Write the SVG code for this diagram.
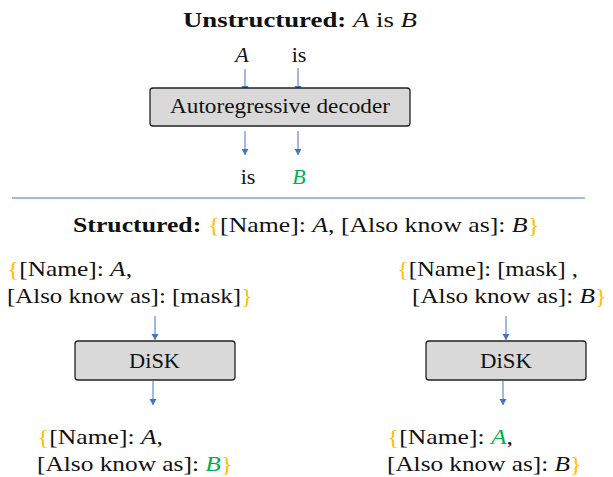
<svg xmlns="http://www.w3.org/2000/svg" width="613" height="477" viewBox="0 0 613 477">
  <style>
    .t { font-family: 'Liberation Serif', 'DejaVu Serif', serif; font-size: 22px; fill: #111; }
    .b { font-weight: bold; }
    .i { font-style: italic; }
    .br { fill: #ffc000; }
    .g { fill: #00b050; }
    .box { fill: #d9d9d9; stroke: #222; stroke-width: 1.3; }
    .arr { stroke: #4472c4; stroke-width: 1; fill: none; marker-end: url(#ah); }
  </style>
  <defs>
    <marker id="ah" markerWidth="8" markerHeight="8" refX="6" refY="4" orient="auto" markerUnits="userSpaceOnUse">
      <path d="M0,0.5 L6,4 L0,7.5 Z" fill="#4472c4"/>
    </marker>
  </defs>

  <!-- connectors -->
  <g id="connectors">
    <line class="arr" x1="245" y1="69" x2="245" y2="92"/>
    <line class="arr" x1="298" y1="68" x2="298" y2="92"/>
    <line class="arr" x1="245" y1="131" x2="245" y2="155"/>
    <line class="arr" x1="298" y1="131" x2="298" y2="155"/>
    <line x1="12" y1="198" x2="585" y2="198" stroke="#4472c4" stroke-width="1"/>
    <line class="arr" x1="155" y1="316" x2="155" y2="340"/>
    <line class="arr" x1="153" y1="381" x2="153" y2="405"/>
    <line class="arr" x1="506" y1="316" x2="506" y2="340"/>
    <line class="arr" x1="503" y1="381" x2="503" y2="405"/>
  </g>

  <!-- unstructured part -->
  <g id="title-unstructured">
    <text class="t" x="183" y="27" textLength="234" lengthAdjust="spacingAndGlyphs"><tspan class="b">Unstructured:</tspan> <tspan class="i">A</tspan> is <tspan class="i">B</tspan></text>
  </g>
  <g id="input-tokens">
    <text class="t i" x="242" y="62" text-anchor="middle">A</text>
    <text class="t" x="299" y="62" text-anchor="middle">is</text>
  </g>
  <g id="decoder">
    <rect class="box" x="150" y="88" width="260" height="38" rx="3"/>
    <text class="t" x="170" y="113" textLength="220" lengthAdjust="spacingAndGlyphs">Autoregressive decoder</text>
  </g>
  <g id="output-tokens">
    <text class="t" x="248" y="184" text-anchor="middle">is</text>
    <text class="t i g" x="299" y="184" text-anchor="middle">B</text>
  </g>

  <!-- structured part -->
  <g id="title-structured">
    <text class="t" x="73" y="232" textLength="467" lengthAdjust="spacingAndGlyphs"><tspan class="b">Structured:</tspan> <tspan class="br">{</tspan>[Name]: <tspan class="i">A</tspan>, [Also know as]: <tspan class="i">B</tspan><tspan class="br">}</tspan></text>
  </g>

  <g id="left-input">
    <text class="t" x="7" y="276" textLength="125" lengthAdjust="spacingAndGlyphs"><tspan class="br">{</tspan>[Name]: <tspan class="i">A</tspan>,</text>
    <text class="t" x="7" y="303" textLength="246" lengthAdjust="spacingAndGlyphs">[Also know as]: [mask]<tspan class="br">}</tspan></text>
  </g>
  <g id="left-disk">
    <rect class="box" x="75" y="341" width="160" height="39" rx="3"/>
    <text class="t" x="129" y="368" textLength="51" lengthAdjust="spacingAndGlyphs">DiSK</text>
  </g>
  <g id="left-output">
    <text class="t" x="37" y="444" textLength="126" lengthAdjust="spacingAndGlyphs"><tspan class="br">{</tspan>[Name]: <tspan class="i">A</tspan>,</text>
    <text class="t" x="37" y="471" textLength="196" lengthAdjust="spacingAndGlyphs">[Also know as]: <tspan class="i g">B</tspan><tspan class="br">}</tspan></text>
  </g>

  <g id="right-input">
    <text class="t" x="397" y="276" textLength="181" lengthAdjust="spacingAndGlyphs"><tspan class="br">{</tspan>[Name]: [mask] ,</text>
    <text class="t" x="412" y="303" textLength="195" lengthAdjust="spacingAndGlyphs">[Also know as]: <tspan class="i">B</tspan><tspan class="br">}</tspan></text>
  </g>
  <g id="right-disk">
    <rect class="box" x="426" y="341" width="160" height="39" rx="3"/>
    <text class="t" x="480" y="368" textLength="52" lengthAdjust="spacingAndGlyphs">DiSK</text>
  </g>
  <g id="right-output">
    <text class="t" x="387" y="444" textLength="126" lengthAdjust="spacingAndGlyphs"><tspan class="br">{</tspan>[Name]: <tspan class="i g">A</tspan>,</text>
    <text class="t" x="387" y="471" textLength="195" lengthAdjust="spacingAndGlyphs">[Also know as]: <tspan class="i">B</tspan><tspan class="br">}</tspan></text>
  </g>
</svg>
